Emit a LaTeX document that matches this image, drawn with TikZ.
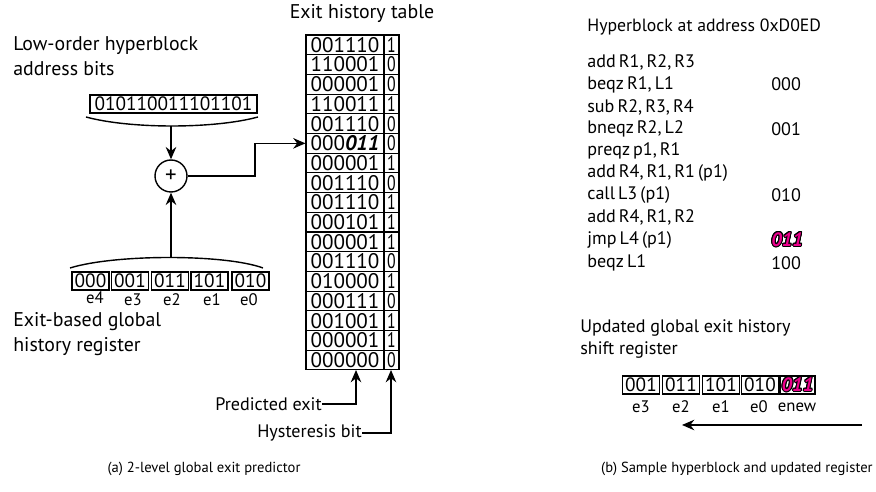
\documentclass[tikz,border=0pt]{standalone}
\usepackage{fontspec}
\setmainfont{PT Sans}
\usepackage{contour}
\contourlength{0.6pt}
\usetikzlibrary{arrows.meta}

\newcommand{\hotexit}{{\color{magenta}\contour{black}{\textbf{\textit{011}}}}}
\newcommand{\codefont}{\fontsize{10.3}{12}\selectfont\spaceskip 0.17em\relax}

\tikzset{
  lbl/.style={anchor=west, align=left, inner sep=0pt, font=\fontsize{11.3}{14}\selectfont},
  codeline/.style={anchor=west, inner sep=0pt, font=\codefont},
  small/.style={inner sep=0pt, font=\fontsize{9.5}{11}\selectfont},
  note/.style={inner sep=0pt, anchor=east, font=\fontsize{10.3}{12}\selectfont},
  captext/.style={inner sep=0pt, font=\fontsize{8.3}{10}\selectfont},
  regbox/.style={draw, line width=0.6pt, minimum width=0.74cm, minimum height=0.36cm,
    inner sep=0pt, font=\fontsize{11}{13}\selectfont},
  rowbox/.style={draw, line width=0.6pt, minimum width=1.56cm, minimum height=0.394cm,
    inner sep=0pt, font=\fontsize{12}{14}\selectfont},
  hystbox/.style={draw, line width=0.6pt, minimum width=0.3cm, minimum height=0.394cm,
    inner sep=0pt, font=\fontsize{12}{14}\selectfont},
  arr/.style={line width=0.8pt, -{Stealth[length=7pt,width=6pt]}},
  wire/.style={line width=0.8pt}
}

\begin{document}
\begin{tikzpicture}[x=0.02cm, y=-0.02cm]
  \useasboundingbox (0,0) rectangle (876,492);

  % (a) left side
  \node[lbl] (lowlbl) at (13,56) {Low-order hyperblock\\address bits};
  \node[regbox, minimum width=3.34cm] (addr) at (173.5,104) {010110011101101};
  \coordinate (addrl) at (86,117);
  \coordinate (addrr) at (258,117);
  \coordinate (addrmid) at (171,126);
  \draw[wire] (addrl) .. controls (130,129) and (214,129) .. (addrr);

  \node[circle, draw, line width=0.8pt, minimum size=0.64cm, inner sep=0pt,
    font=\fontsize{13}{13}\selectfont] (plus) at (171,176) {+};
  \draw[arr] (addrmid) -- (plus.north);

  \node[regbox] (h4) at (90.5,281) {000};
  \node[regbox] (h3) at (130,281) {001};
  \node[regbox] (h2) at (170,281) {011};
  \node[regbox] (h1) at (209.5,281) {101};
  \node[regbox] (h0) at (250.5,281) {010};
  \node[small] (e4) at (95,298) {e4};
  \node[small] (e3) at (133,300) {e3};
  \node[small] (e2) at (172,300) {e2};
  \node[small] (e1) at (212,300) {e1};
  \node[small] (e0) at (249,300) {e0};
  \coordinate (histl) at (70,268);
  \coordinate (histr) at (263,268);
  \coordinate (histmid) at (171,258);
  \draw[wire] (histl) .. controls (115,254) and (225,254) .. (histr);
  \draw[arr] (histmid) -- (plus.south);
  \node[lbl] (histlbl) at (13,334) {Exit-based global\\history register};

  % exit history table
  \node[lbl, anchor=center] (tabtitle) at (362,14) {Exit history table};
  \foreach \bits/\hyst [count=\i] in {001110/1, 110001/0, 000001/0, 110011/1, 001110/0,
      000{\textbf{\textit{011}}}/0, 000001/1, 001110/0, 001110/1, 000101/1, 000001/1,
      001110/0, 010000/1, 000111/0, 001001/1, 000001/1, 000000/0} {
    \node[rowbox] (r\i) at (345,{35+19.7*(\i-0.5)}) {\bits};
    \node[hystbox] (b\i) at (391.5,{35+19.7*(\i-0.5)}) {\scalebox{0.75}[1]{\hyst}};
  }
  \coordinate (bend) at (255,160);
  \draw[arr] (plus.east) -| (bend) |- (r6.west);

  \node[note] (pred) at (322,404) {Predicted exit};
  \node[note] (hyst) at (362,433) {Hysteresis bit};
  \coordinate (predtip) at (356,370);
  \coordinate (hysttip) at (391,370);
  \draw[arr] (pred.east) -| (predtip);
  \draw[arr] (hyst.east) -| (hysttip);

  \node[captext] (capa) at (204,469) {(a) 2-level global exit predictor};

  % (b) right side
  \node[anchor=west, inner sep=0pt, font=\fontsize{10.1}{12}\selectfont] (hbtitle) at (587,27) {Hyperblock at address 0xD0ED};
  \node[codeline] (c1) at (587,62) {add R1, R2, R3};
  \node[codeline] (c2) at (587,84.5) {beqz R1, L1};
  \node[codeline] (c3) at (587,107) {sub R2, R3, R4};
  \node[codeline] (c4) at (587,129) {bneqz R2, L2};
  \node[codeline] (c5) at (587,151) {preqz p1, R1};
  \node[codeline] (c6) at (587,173) {add R4, R1, R1 (p1)};
  \node[codeline] (c7) at (587,195) {call L3 (p1)};
  \node[codeline] (c8) at (587,217) {add R4, R1, R2};
  \node[codeline] (c9) at (587,240) {jmp L4 (p1)};
  \node[codeline] (c10) at (587,263) {beqz L1};
  \node[codeline] (x2) at (771,84.5) {000};
  \node[codeline] (x4) at (771,129) {001};
  \node[codeline] (x7) at (771,195) {010};
  \node[codeline, font=\fontsize{11}{13}\selectfont] (x9) at (771,240) {\hotexit};
  \node[codeline] (x10) at (771,263) {100};

  \node[lbl, font=\fontsize{10.3}{13}\selectfont] (updlbl) at (580,339) {Updated global exit history\\shift register};
  \node[regbox] (n3) at (641,385) {001};
  \node[regbox] (n2) at (681,385) {011};
  \node[regbox] (n1) at (721,385) {101};
  \node[regbox] (n0) at (760,385) {010};
  \node[regbox, minimum width=0.7cm] (nn) at (797.5,385) {\hotexit};
  \node[small] (f3) at (641,407) {e3};
  \node[small] (f2) at (681,407) {e2};
  \node[small] (f1) at (721,407) {e1};
  \node[small] (f0) at (759,407) {e0};
  \node[small] (fn) at (797,407) {enew};
  \coordinate (shstart) at (862,425);
  \coordinate (shend) at (682,425);
  \draw[arr] (shstart) -- (shend);

  \node[captext, anchor=east] (capb) at (873,469) {(b) Sample hyperblock and updated register};
\end{tikzpicture}
\end{document}
